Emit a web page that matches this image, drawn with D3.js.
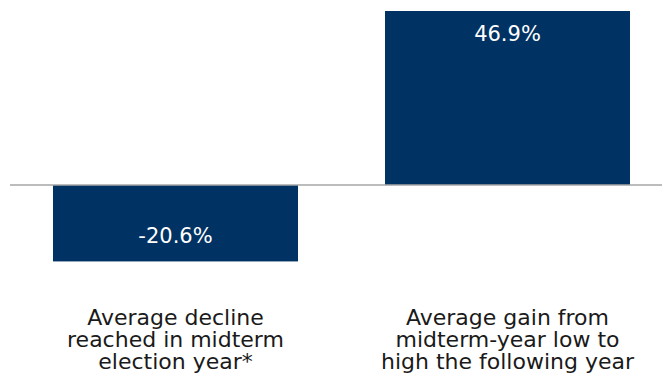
<!DOCTYPE html>
<html>
<head>
<meta charset="utf-8">
<script src="https://cdn.jsdelivr.net/npm/d3@7"></script>
<style>
  body { margin: 0; background: #fff; }
  text { font-family: "DejaVu Sans", sans-serif; }
</style>
</head>
<body>
<div id="chart"></div>
<script>
let w = 662,
    h = 377;

// data
let categories = ["decline", "gain"];
let values = [-20.6, 46.9];
let valueLabels = ["-20.6%", "46.9%"];
let captions = [
  ["Average decline", "reached in midterm", "election year*"],
  ["Average gain from", "midterm-year low to", "high the following year"]
];

let barColor = "#003263";

let x = d3.scaleBand()
          .domain(categories)
          .range([9.5, 673.5])
          .paddingInner(0.262)
          .paddingOuter(0.131);

let y = d3.scaleLinear()
          .domain([-50, 46.9])
          .range([370.5, 11]);

let svg = d3.select("#chart")
            .append("svg")
            .attr("width", w)
            .attr("height", h);

svg.selectAll(".bar")
   .data(values)
   .enter()
   .append("rect")
   .attr("class", "bar")
   .attr("x", (d, i) => x(categories[i]))
   .attr("width", x.bandwidth())
   .attr("y", d => y(Math.max(0, d)))
   .attr("height", d => Math.abs(y(d) - y(0)))
   .style("fill", barColor);

// zero line
svg.append("line")
   .attr("x1", 10)
   .attr("x2", w)
   .attr("y1", y(0))
   .attr("y2", y(0))
   .style("stroke", "#a6a6a6")
   .style("stroke-width", 1.5);

// value labels inside bars
svg.selectAll(".value")
   .data(values)
   .enter()
   .append("text")
   .attr("class", "value")
   .attr("x", (d, i) => x(categories[i]) + x.bandwidth() / 2)
   .attr("y", d => d < 0 ? y(0) + 58 : y(d) + 30)
   .attr("text-anchor", "middle")
   .style("fill", "#fff")
   .style("font-size", "21px")
   .text((d, i) => valueLabels[i]);

// category captions
captions.forEach((lines, i) => {
  let t = svg.append("text")
             .attr("text-anchor", "middle")
             .style("fill", "#1a1a1a")
             .style("font-size", "22px");
  lines.forEach((line, j) => {
    t.append("tspan")
     .attr("x", x(categories[i]) + x.bandwidth() / 2)
     .attr("y", 325 + j * 22)
     .text(line);
  });
});
</script>
</body>
</html>
